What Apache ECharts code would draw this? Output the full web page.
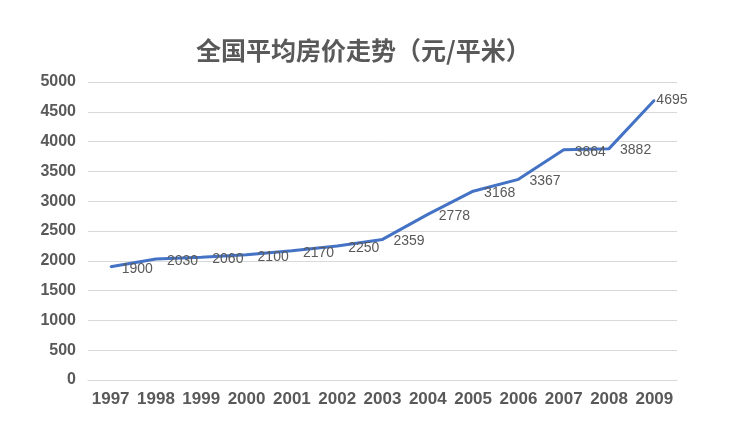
<!DOCTYPE html>
<html>
<head>
<meta charset="utf-8">
<script src="https://cdn.jsdelivr.net/npm/echarts@6/dist/echarts.min.js"></script>
<style>html,body{margin:0;padding:0;background:#fff;}#c{width:740px;height:434px;}</style>
</head>
<body>
<div id="c"></div>
<script>
const years = ['1997','1998','1999','2000','2001','2002','2003','2004','2005','2006','2007','2008','2009'];
const prices = [1900, 2030, 2060, 2100, 2170, 2250, 2359, 2778, 3168, 3367, 3864, 3882, 4695];
const titleText = '全国平均房价走势（元/平米）';

const chart = echarts.init(document.getElementById('c'));
const seriesData = prices.map((v, i) => i === prices.length - 1
  ? { value: v, label: { distance: 1, offset: [0, 0] } }
  : v);

chart.setOption({
  backgroundColor: '#ffffff',
  animation: false,
  title: {
    text: titleText,
    left: 191,
    top: 33,
    textStyle: {
      fontFamily: 'Noto Sans CJK SC',
      fontSize: 25,
      fontWeight: 'bold',
      color: '#595959'
    }
  },
  grid: { left: 88, right: 63, top: 82, bottom: 54 },
  xAxis: {
    type: 'category',
    data: years,
    boundaryGap: true,
    axisLine: { show: true, lineStyle: { color: '#d9d9d9', width: 1 } },
    axisTick: { show: false },
    axisLabel: {
      margin: 11,
      fontFamily: 'Liberation Sans',
      fontSize: 17,
      fontWeight: 'bold',
      color: '#595959',
      interval: 0
    }
  },
  yAxis: {
    type: 'value',
    min: 0,
    max: 5000,
    interval: 500,
    axisLine: { show: false },
    axisTick: { show: false },
    splitLine: { lineStyle: { color: '#d9d9d9', width: 1 } },
    axisLabel: {
      margin: 12,
      fontFamily: 'Liberation Sans',
      fontSize: 16,
      fontWeight: 'bold',
      color: '#595959',
      formatter: v => String(v)
    }
  },
  series: [{
    type: 'line',
    data: seriesData,
    symbol: 'circle',
    symbolSize: 2,
    showSymbol: true,
    showAllSymbol: true,
    lineStyle: { color: '#4472C4', width: 3 },
    itemStyle: { color: '#4472C4' },
    label: {
      show: true,
      position: 'right',
      distance: 10,
      offset: [0, 2],
      fontFamily: 'Liberation Sans',
      fontSize: 14,
      color: '#595959'
    }
  }]
});
</script>
</body>
</html>
